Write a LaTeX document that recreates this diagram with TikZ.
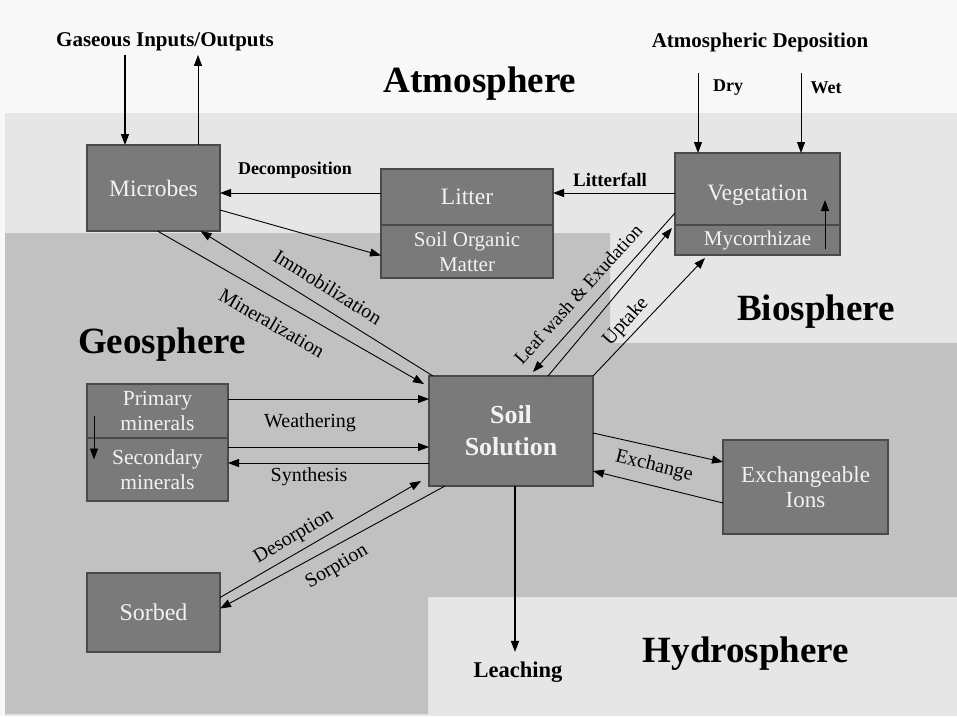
\documentclass[tikz,border=0pt]{standalone}
\usepackage{fontspec}
\setmainfont{Liberation Serif}
\usetikzlibrary{arrows.meta,positioning}

\definecolor{skybg}{HTML}{F8F8F8}
\definecolor{biobg}{HTML}{E6E6E6}
\definecolor{geobg}{HTML}{C1C1C1}
\definecolor{boxfill}{HTML}{7A7A7A}
\definecolor{boxline}{HTML}{4A4A4A}
\definecolor{boxtext}{HTML}{F2F2F2}

\begin{document}
\begin{tikzpicture}[x=1pt,y=-1pt,->,>={Triangle[length=11pt,width=8pt]},line width=0.9pt]
  \tikzstyle{box}=[draw=boxline,fill=boxfill,text=boxtext,line width=1.2pt,inner sep=0pt,outer sep=0pt,align=center,font=\fontsize{23.5}{25}\selectfont]
  \tikzstyle{lbl}=[font=\fontsize{20}{22}\selectfont]
  \tikzstyle{sphere}=[font=\bfseries\fontsize{37}{40}\selectfont]
  \tikzstyle{tag}=[font=\bfseries\fontsize{21}{22}\selectfont]

  \useasboundingbox (0,0) rectangle (957,716);
  % the spheres
  \fill[skybg] (0,0) rectangle (957,716);
  \fill[biobg] (5,113) rectangle (957,716);
  \fill[geobg] (5,233) -- (610,233) -- (610,343) -- (957,343) -- (957,597)
    -- (428,597) -- (428,714) -- (5,714) -- cycle;

  \node[sphere] (atmo)  at (480,84)  {Atmosphere};
  \node[sphere] (geo)   at (162,345) {Geosphere};
  \node[sphere] (bio)   at (816,312) {Biosphere};
  \node[sphere] (hydro) at (746,654) {Hydrosphere};

  % pools
  \node[box,minimum width=133pt,minimum height=86pt] (microbes) at (153.5,188) {Microbes};
  \node[box,minimum width=172pt,minimum height=56pt] (litter)   at (467,197)   {Litter};
  \node[box,minimum width=172pt,minimum height=53pt,font=\fontsize{21}{25}\selectfont] (som) [below=0pt of litter] {Soil Organic\\Matter};
  \node[box,minimum width=165pt,minimum height=72pt,text height=29pt] (veg) at (757.5,189) {Vegetation};
  \node[box,minimum width=165pt,minimum height=30pt,font=\fontsize{21}{25}\selectfont] (myco) [below=0pt of veg] {Mycorrhizae};
  \node[box,minimum width=141pt,minimum height=54pt,font=\fontsize{21.5}{25}\selectfont] (primary) at (157.5,411) {Primary\\minerals};
  \node[box,minimum width=141pt,minimum height=63pt,font=\fontsize{21.5}{25}\selectfont] (secondary) [below=0pt of primary] {Secondary\\minerals};
  \node[box,minimum width=133pt,minimum height=79pt,font=\fontsize{24}{26}\selectfont] (sorbed) at (153.5,612.5) {Sorbed};
  \node[box,minimum width=164pt,minimum height=110pt,font=\bfseries\fontsize{26}{32}\selectfont] (soil) at (511,431) {Soil\\Solution};
  \node[box,minimum width=165pt,minimum height=94pt,font=\fontsize{23}{25}\selectfont] (ions) at (805.5,487) {Exchangeable\\Ions};

  % inputs and outputs
  \node[tag] (gas)   at (165,42)  {Gaseous Inputs/Outputs};
  \node[tag] (dep)   at (760,42)  {Atmospheric Deposition};
  \node[tag,font=\bfseries\fontsize{18}{20}\selectfont] (dry) at (728,88) {Dry};
  \node[tag,font=\bfseries\fontsize{18}{20}\selectfont] (wet) at (826,88) {Wet};
  \node[tag,font=\bfseries\fontsize{22.5}{24}\selectfont] (leach) at (518,672) {Leaching};

  % flux labels
  \node[lbl,font=\bfseries\fontsize{18}{20}\selectfont] (decomp)  at (295,170) {Decomposition};
  \node[lbl,font=\bfseries\fontsize{19}{20}\selectfont] (litfall) at (610,180) {Litterfall};
  \node[lbl,rotate=-32] (immob) at (328,287) {Immobilization};
  \node[lbl,rotate=-30] (miner) at (272,323) {Mineralization};
  \node[lbl,rotate=48,font=\fontsize{19}{21}\selectfont] (leaf) at (578,294) {Leaf wash \& Exudation};
  \node[lbl,rotate=48] (uptake)  at (626,322) {Uptake};
  \node[lbl] (weather) at (310,423) {Weathering};
  \node[lbl] (synth)   at (309,477) {Synthesis};
  \node[lbl,rotate=31] (desorp) at (294,537) {Desorption};
  \node[lbl,rotate=31] (sorp)   at (337,567) {Sorption};
  \node[lbl,rotate=-14] (exch)  at (654,466) {Exchange};

  % fluxes
  \draw[line width=1.4pt] ([xshift=-28.5pt]microbes.north |- gas.south) -- ([xshift=-28.5pt]microbes.north);
  \draw ([xshift=44.5pt]microbes.north) -- ([xshift=44.5pt]microbes.north |- gas.south);
  \draw ([xshift=-59.5pt,yshift=80pt]veg.north) -- ([xshift=-59.5pt]veg.north);
  \draw ([xshift=43.5pt,yshift=80pt]veg.north) -- ([xshift=43.5pt]veg.north);
  \draw ([yshift=4pt]litter.west) -- ([yshift=4pt]microbes.east |- litter.west);
  \draw ([yshift=4pt]veg.west |- litter.west) -- ([yshift=4pt]litter.east);
  \draw ([yshift=-22pt]microbes.east) -- ([yshift=-4pt]som.west);
  \draw ([xshift=4pt]soil.north west) -- ([xshift=47pt]microbes.south);
  \draw ([xshift=4pt]microbes.south) -- ([xshift=-5pt,yshift=-8pt]soil.north west);
  \draw ([yshift=-24pt]veg.west) -- ([xshift=22pt,yshift=4pt]soil.north);
  \draw ([xshift=37pt]soil.north) -- ([xshift=-3pt,yshift=-3pt]myco.north west);
  \draw (soil.north east) -- ([xshift=30pt,yshift=-3pt]myco.south west);
  \draw ([yshift=12pt]primary.east) -- ([yshift=12pt]soil.west |- primary.east);
  \draw ([yshift=22.5pt]secondary.east) -- ([yshift=22.5pt]soil.west |- secondary.east);
  \draw ([yshift=6.5pt]soil.west |- secondary.east) -- ([yshift=6.5pt]secondary.east);
  \draw ([yshift=15pt]sorbed.east) -- ([xshift=-8pt,yshift=5pt]soil.south west);
  \draw ([xshift=16pt]soil.south west) -- ([yshift=4pt]sorbed.east);
  \draw ([yshift=-2pt]soil.east) -- ([yshift=25pt]ions.west);
  \draw ([yshift=-16pt]ions.west) -- ([yshift=-40pt]soil.east);
  \draw[line width=1.6pt] ([xshift=4pt]soil.south) -- ([xshift=-3pt,yshift=6pt]leach.north);
  \draw ([xshift=67.5pt,yshift=6pt]myco.south) -- ([xshift=67.5pt,yshift=-11pt]veg.center);
  \draw ([xshift=7pt,yshift=-5pt]primary.west) -- ([xshift=7pt,yshift=10pt]secondary.west);
\end{tikzpicture}
\end{document}
